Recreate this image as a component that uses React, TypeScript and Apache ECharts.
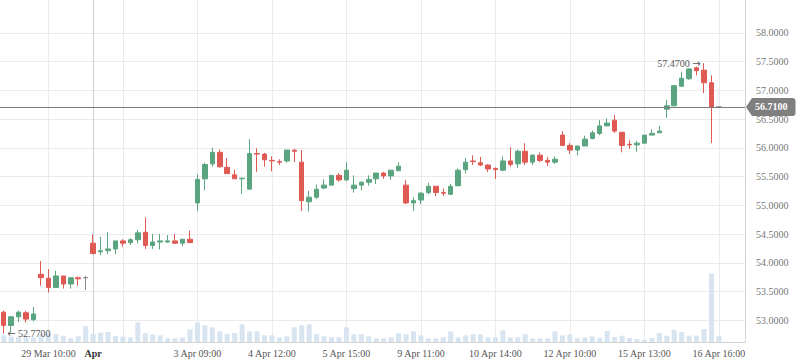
import React, { useEffect, useRef } from 'react';
import * as echarts from 'echarts';

// ---- categories (hourly sessions) ----
const sessionDays = ['28 Mar', '29 Mar', '1 Apr', '2 Apr', '3 Apr', '4 Apr', '5 Apr', '8 Apr', '9 Apr', '10 Apr', '11 Apr', '12 Apr', '15 Apr', '16 Apr'];
const sessionFirstHour = [11, 9, 9, 9, 9, 9, 9, 9, 9, 9, 9, 9, 9, 9];
const sessionLastHour = [15, 15, 15, 15, 15, 15, 15, 15, 15, 15, 15, 15, 15, 16];
const padSlots = ['pad 1', 'pad 2', 'pad 3'];

// ---- tick labels ----
const tickCategories = ['29 Mar 10:00', '1 Apr 09:00', '3 Apr 09:00', '4 Apr 12:00', '5 Apr 15:00', '9 Apr 11:00', '10 Apr 14:00', '12 Apr 10:00', '15 Apr 13:00', '16 Apr 16:00'];
const tickTexts = ['29 Mar 10:00', 'Apr', '3 Apr 09:00', '4 Apr 12:00', '5 Apr 15:00', '9 Apr 11:00', '10 Apr 14:00', '12 Apr 10:00', '15 Apr 13:00', '16 Apr 16:00'];
const gridCategories = ['29 Mar 10:00', '1 Apr 09:00', '1 Apr 13:00', '3 Apr 09:00', '4 Apr 12:00', '5 Apr 15:00', '9 Apr 11:00', '10 Apr 14:00', '12 Apr 10:00', '15 Apr 13:00', '16 Apr 16:00'];
const monthCategory = '1 Apr 09:00';

// ---- series values ----
const open = [
  53.14, 52.91, 53.06, 53.13, 53.01, 53.80, 53.73, 53.57, 53.77, 53.63,
  53.74, 53.74, 54.34, 54.19, 54.21, 54.24, 54.38, 54.35, 54.40, 54.53,
  54.30, 54.36, 54.36, 54.38, 54.34, 54.41, 55.04, 55.46, 55.72, 55.92,
  55.66, 55.53, 55.46, 55.28, 55.90, 55.89, 55.78, 55.76, 55.77, 55.96,
  55.75, 55.06, 55.14, 55.30, 55.35, 55.52, 55.44, 55.29, 55.35, 55.40,
  55.46, 55.56, 55.51, 55.60, 55.35, 55.04, 55.09, 55.22, 55.33, 55.22,
  55.19, 55.34, 55.62, 55.77, 55.74, 55.70, 55.64, 55.61, 55.77, 55.72,
  55.94, 55.75, 55.87, 55.78, 55.75, 56.22, 56.04, 55.96, 56.03, 56.16,
  56.25, 56.38, 56.48, 56.27, 56.06, 56.05, 56.08, 56.22, 56.26, 56.67,
  56.73, 57.07, 57.20, 57.39, 57.35, 57.13, 56.71,
];
const close = [
  52.91, 53.06, 53.14, 53.02, 53.11, 53.74, 53.57, 53.77, 53.63, 53.74,
  53.72, 53.74, 54.16, 54.21, 54.24, 54.38, 54.34, 54.40, 54.52, 54.30,
  54.36, 54.38, 54.38, 54.34, 54.41, 54.35, 55.45, 55.71, 55.92, 55.67,
  55.55, 55.46, 55.47, 55.90, 55.89, 55.79, 55.77, 55.75, 55.96, 55.94,
  55.08, 55.14, 55.28, 55.35, 55.52, 55.44, 55.61, 55.35, 55.40, 55.45,
  55.56, 55.51, 55.61, 55.68, 55.04, 55.08, 55.21, 55.33, 55.22, 55.21,
  55.33, 55.61, 55.75, 55.76, 55.70, 55.63, 55.62, 55.77, 55.71, 55.94,
  55.75, 55.87, 55.78, 55.75, 55.80, 56.04, 55.96, 56.03, 56.15, 56.26,
  56.38, 56.43, 56.29, 56.04, 56.05, 56.08, 56.22, 56.25, 56.29, 56.73,
  57.08, 57.21, 57.37, 57.34, 57.13, 56.71, 56.71,
];
const low = [
  52.77, 52.79, 52.97, 52.96, 52.98, 53.60, 53.48, 53.57, 53.55, 53.55,
  53.60, 53.53, 54.15, 54.13, 54.15, 54.15, 54.28, 54.31, 54.34, 54.24,
  54.24, 54.23, 54.35, 54.33, 54.29, 54.35, 54.90, 55.26, 55.67, 55.65,
  55.55, 55.46, 55.20, 55.28, 55.58, 55.67, 55.59, 55.70, 55.74, 55.75,
  54.90, 54.89, 55.11, 55.28, 55.35, 55.41, 55.42, 55.22, 55.26, 55.34,
  55.37, 55.46, 55.44, 55.60, 55.02, 54.90, 55.02, 55.19, 55.16, 55.16,
  55.18, 55.33, 55.55, 55.70, 55.68, 55.58, 55.46, 55.59, 55.67, 55.65,
  55.70, 55.70, 55.75, 55.68, 55.72, 56.03, 55.89, 55.87, 56.03, 56.15,
  56.22, 56.38, 56.26, 55.92, 55.98, 55.93, 56.07, 56.22, 56.26, 56.52,
  56.72, 57.06, 57.18, 57.26, 56.95, 56.08, 56.71,
];
const high = [
  53.17, 53.07, 53.17, 53.16, 53.23, 54.03, 53.89, 53.86, 53.77, 53.74,
  53.76, 53.77, 54.49, 54.45, 54.53, 54.38, 54.41, 54.43, 54.57, 54.79,
  54.50, 54.50, 54.48, 54.50, 54.41, 54.56, 55.54, 55.74, 56.00, 55.97,
  55.82, 55.62, 55.48, 56.15, 55.99, 55.91, 55.85, 55.80, 55.96, 55.97,
  55.96, 55.25, 55.36, 55.45, 55.52, 55.56, 55.75, 55.52, 55.42, 55.52,
  55.56, 55.58, 55.61, 55.75, 55.44, 55.14, 55.23, 55.39, 55.33, 55.29,
  55.37, 55.64, 55.82, 55.87, 55.84, 55.71, 55.66, 55.85, 56.01, 55.97,
  56.08, 55.89, 55.92, 55.84, 55.85, 56.29, 56.08, 56.03, 56.21, 56.30,
  56.48, 56.51, 56.57, 56.27, 56.13, 56.12, 56.22, 56.32, 56.38, 56.83,
  57.09, 57.32, 57.38, 57.41, 57.47, 57.26, 56.71,
];
const volume = [
  650, 550, 480, 500, 460, 800, 800, 800, 630, 380,
  580, 1580, 780, 930, 1000, 600, 550, 470, 1970, 870,
  770, 670, 370, 370, 450, 1270, 1970, 1670, 1470, 1070,
  800, 900, 1770, 1070, 1070, 670, 670, 470, 570, 1470,
  1670, 1770, 770, 570, 470, 470, 1470, 770, 770, 570,
  370, 370, 470, 870, 770, 1070, 670, 370, 370, 470,
  1070, 470, 670, 770, 770, 470, 470, 1170, 470, 470,
  770, 370, 370, 370, 1070, 670, 770, 370, 470, 570,
  400, 1100, 500, 630, 400, 300, 200, 400, 900, 630,
  1200, 1000, 630, 630, 1300, 6830, 600,
];

const FONT = "'Liberation Serif', serif";
const ARROW_FONT = "'DejaVu Sans', sans-serif";
const UP = '#5aa57f';
const DOWN = '#e05a54';
const TAG = '#7f7f7f';

function buildCategories(): string[] {
  const out: string[] = [];
  sessionDays.forEach((d, k) => {
    for (let h = sessionFirstHour[k]; h <= sessionLastHour[k]; h++) {
      out.push(`${d} ${h < 10 ? '0' + h : h}:00`);
    }
  });
  return out.concat(padSlots);
}

export default function App() {
  const ref = useRef<HTMLDivElement>(null);

  useEffect(() => {
    if (!ref.current) return;
    const chart = echarts.init(ref.current, undefined, { renderer: 'svg' });
    const categories = buildCategories();
    const ohlc = open.map((o, i) => [o, close[i], low[i], high[i]]);
    const tickIdx = new Map<number, string>();
    tickCategories.forEach((c, k) => tickIdx.set(categories.indexOf(c), tickTexts[k]));
    const monthIdx = categories.indexOf(monthCategory);

    let maxIdx = 0;
    let minIdx = 0;
    high.forEach((v, i) => { if (v > high[maxIdx]) maxIdx = i; });
    low.forEach((v, i) => { if (v < low[minIdx]) minIdx = i; });
    const lastPrice = close[close.length - 1];

    // 13 split lines 52.5 .. 58.5, hide the first & last
    const splitColors = Array.from({ length: 13 }, (_, k) => (k === 0 || k === 12 ? 'rgba(0,0,0,0)' : '#ebebeb'));

    const arrowRich = { a: { fontFamily: ARROW_FONT, fontSize: 10, color: '#555' }, t: { fontFamily: FONT, fontSize: 10, color: '#555' } };

    const option: any = {
      animation: false,
      textStyle: { fontFamily: FONT },
      grid: [
        { left: 0, right: 53, top: 4, bottom: 14 },
        { left: 0, right: 53, top: 0, bottom: 21 },
      ],
      xAxis: [
        { type: 'category', gridIndex: 0, data: categories, boundaryGap: true, show: false },
        {
          type: 'category', gridIndex: 1, data: categories, boundaryGap: true,
          axisLine: { show: true, lineStyle: { color: '#d3d3d3' } },
          axisTick: { show: false },
          splitLine: { show: false },
          axisLabel: {
            interval: (i: number) => tickIdx.has(i),
            formatter: (_v: string, i: number) => (i === monthIdx ? '{b|' + tickIdx.get(i) + '}' : tickIdx.get(i) || ''),
            color: '#555', fontSize: 10, fontFamily: FONT, margin: 6,
            rich: { b: { fontWeight: 'bold', fontSize: 10, fontFamily: FONT, color: '#333' } },
          },
        },
      ],
      yAxis: [
        {
          type: 'value', gridIndex: 0, position: 'right', min: 52.5, max: 58.5, interval: 0.5,
          axisLine: { show: false }, axisTick: { show: false },
          splitLine: { show: true, lineStyle: { color: splitColors, width: 1 } },
          axisLabel: {
            showMinLabel: false, showMaxLabel: false,
            formatter: (v: number) => v.toFixed(4),
            color: '#777', fontSize: 10, fontFamily: FONT, margin: 11,
          },
        },
        {
          type: 'value', gridIndex: 1, position: 'right', min: 0, max: 34200,
          axisLine: { show: true, lineStyle: { color: '#d3d3d3' } },
          axisTick: { show: false }, axisLabel: { show: false }, splitLine: { show: false },
        },
      ],
      series: [
        {
          type: 'bar', name: 'Volume', xAxisIndex: 1, yAxisIndex: 1, data: volume, barWidth: 5, z: 1,
          itemStyle: { color: '#d8e4f0' },
          markLine: {
            silent: true, z: 1, symbol: ['none', 'none'], label: { show: false },
            lineStyle: { color: '#ebebeb', width: 1, type: 'solid' },
            data: gridCategories.map((c) => ({
              xAxis: c,
              lineStyle: { color: c === monthCategory ? '#d0d0d0' : '#ebebeb', width: 1, type: 'solid' },
            })),
          },
        },
        {
          type: 'candlestick', name: 'Price', xAxisIndex: 0, yAxisIndex: 0, data: ohlc, barWidth: 5, z: 3,
          itemStyle: { color: UP, color0: DOWN, borderColor: UP, borderColor0: DOWN, borderColorDoji: '#888', borderWidth: 1 },
          markLine: {
            silent: true, symbol: ['none', 'none'],
            lineStyle: { color: '#7a7a7a', width: 1, type: 'solid' },
            label: {
              show: true, position: 'end', distance: 7,
              formatter: lastPrice.toFixed(4),
              backgroundColor: TAG, color: '#fff', fontWeight: 'bold', fontSize: 10, fontFamily: FONT,
              padding: [4, 8, 4, 3], borderRadius: [0, 3, 3, 0],
            },
            data: [{ yAxis: lastPrice }],
          },
          markPoint: {
            silent: true, symbol: 'circle', symbolSize: 1,
            itemStyle: { color: 'rgba(0,0,0,0)' },
            label: { show: true, color: '#555', fontSize: 10, fontFamily: FONT, distance: 3, rich: arrowRich },
            data: [
              { coord: [categories[maxIdx], high[maxIdx]], label: { position: 'left', formatter: '{t|' + high[maxIdx].toFixed(4) + '} {a|\u2192}' } },
              { coord: [categories[minIdx], low[minIdx]], label: { position: 'right', formatter: '{a|\u2190} {t|' + low[minIdx].toFixed(4) + '}' } },
            ],
          },
        },
      ],
    };
    chart.setOption(option);

    // pointed left end of the last-price tag
    const y = chart.convertToPixel({ yAxisIndex: 0 }, lastPrice) as number;
    const xEdge = chart.getWidth() - 53;
    chart.setOption({
      graphic: [
        {
          type: 'polygon', z: 100, silent: true,
          shape: { points: [[xEdge + 1, y], [xEdge + 7, y - 9], [xEdge + 7, y + 9]] },
          style: { fill: TAG },
        },
      ],
    });

    return () => chart.dispose();
  }, []);

  return <div ref={ref} style={{ position: 'absolute', left: 0, top: 0, width: 798, height: 363 }} />;
}
